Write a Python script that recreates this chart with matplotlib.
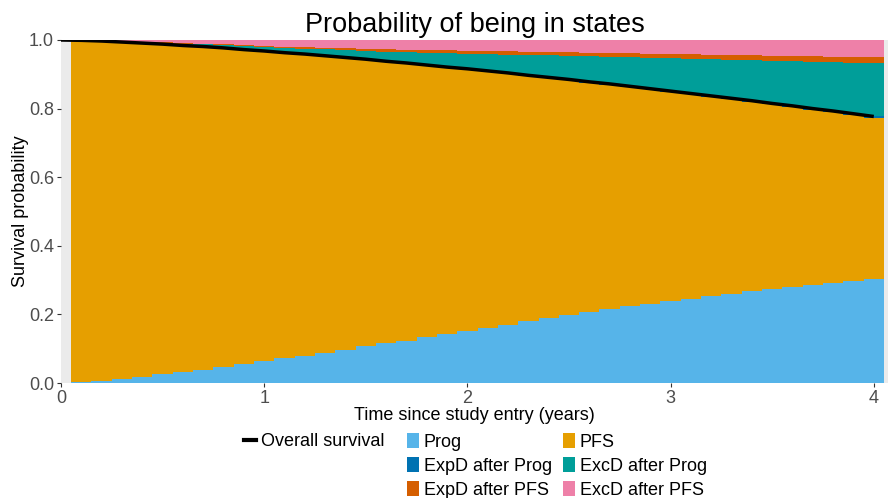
import numpy as np
import matplotlib
matplotlib.use("Agg")
import matplotlib.pyplot as plt
from matplotlib.lines import Line2D
from matplotlib.patches import Patch

plt.rcParams['font.family'] = ['Liberation Sans', 'DejaVu Sans']

# time points (years) - one bar per 0.1 year
times = [0.1, 0.2, 0.3, 0.4, 0.5, 0.6, 0.7, 0.8, 0.9, 1.0,
         1.1, 1.2, 1.3, 1.4, 1.5, 1.6, 1.7, 1.8, 1.9, 2.0,
         2.1, 2.2, 2.3, 2.4, 2.5, 2.6, 2.7, 2.8, 2.9, 3.0,
         3.1, 3.2, 3.3, 3.4, 3.5, 3.6, 3.7, 3.8, 3.9, 4.0]

# state membership probabilities (stacked bottom -> top)
prog = [0.004, 0.006, 0.011, 0.018, 0.027, 0.033, 0.039, 0.047, 0.056, 0.065,
        0.074, 0.080, 0.087, 0.097, 0.109, 0.117, 0.122, 0.134, 0.144, 0.152,
        0.161, 0.168, 0.181, 0.190, 0.197, 0.207, 0.215, 0.225, 0.231, 0.238,
        0.244, 0.254, 0.260, 0.267, 0.273, 0.281, 0.286, 0.292, 0.296, 0.302]
pfs = [0.995, 0.991, 0.983, 0.973, 0.961, 0.951, 0.942, 0.930, 0.916, 0.903,
       0.888, 0.878, 0.866, 0.851, 0.834, 0.820, 0.810, 0.792, 0.776, 0.763,
       0.748, 0.735, 0.715, 0.700, 0.687, 0.669, 0.655, 0.638, 0.625, 0.611,
       0.598, 0.581, 0.568, 0.553, 0.539, 0.524, 0.511, 0.498, 0.485, 0.471]
expd_prog = [0.0, 0.0, 0.0, 0.0, 0.0, 0.0, 0.0, 0.0, 0.0, 0.0,
             0.001, 0.001, 0.001, 0.001, 0.001, 0.001, 0.001, 0.001, 0.001, 0.001,
             0.001, 0.001, 0.001, 0.001, 0.001, 0.002, 0.002, 0.002, 0.002, 0.002,
             0.002, 0.002, 0.002, 0.003, 0.003, 0.003, 0.003, 0.003, 0.004, 0.004]
excd_prog = [0.001, 0.002, 0.003, 0.003, 0.004, 0.005, 0.006, 0.007, 0.010, 0.011,
             0.014, 0.016, 0.019, 0.022, 0.025, 0.028, 0.032, 0.036, 0.041, 0.044,
             0.049, 0.053, 0.059, 0.064, 0.068, 0.074, 0.079, 0.084, 0.090, 0.096,
             0.101, 0.107, 0.113, 0.118, 0.125, 0.131, 0.137, 0.143, 0.149, 0.156]
expd_pfs = [0.0, 0.0, 0.0, 0.001, 0.001, 0.002, 0.002, 0.003, 0.003, 0.004,
            0.004, 0.005, 0.005, 0.006, 0.006, 0.007, 0.007, 0.008, 0.008, 0.009,
            0.009, 0.010, 0.010, 0.010, 0.011, 0.011, 0.011, 0.012, 0.012, 0.012,
            0.013, 0.013, 0.013, 0.014, 0.014, 0.014, 0.015, 0.015, 0.016, 0.016]
excd_pfs = [0.0, 0.001, 0.003, 0.005, 0.007, 0.009, 0.011, 0.013, 0.015, 0.017,
            0.019, 0.020, 0.022, 0.023, 0.025, 0.027, 0.028, 0.029, 0.030, 0.031,
            0.032, 0.033, 0.034, 0.035, 0.036, 0.037, 0.038, 0.039, 0.040, 0.041,
            0.042, 0.043, 0.044, 0.045, 0.046, 0.047, 0.048, 0.049, 0.050, 0.051]

# overall survival curve
os_time = [0.0] + times
os_surv = [1.0, 0.999, 0.997, 0.994, 0.991, 0.988, 0.984, 0.981, 0.977, 0.972, 0.968,
           0.963, 0.959, 0.954, 0.949, 0.944, 0.938, 0.933, 0.927, 0.921, 0.916,
           0.910, 0.904, 0.897, 0.891, 0.885, 0.878, 0.872, 0.865, 0.858, 0.851,
           0.844, 0.837, 0.830, 0.823, 0.815, 0.808, 0.800, 0.793, 0.785, 0.777]

state_names = ['Prog', 'PFS', 'ExpD after Prog', 'ExcD after Prog',
               'ExpD after PFS', 'ExcD after PFS']
state_colors = ['#56B4E9', '#E69F00', '#0072B2', '#009E99', '#D55E00', '#EE80A8']
states = [prog, pfs, expd_prog, excd_prog, expd_pfs, excd_pfs]

fig = plt.figure(figsize=(8.88, 4.98), dpi=100)
ax = fig.add_axes([61/888, 115/498, 827/888, 343/498])
ax.set_facecolor('#EBEBEB')

t = np.array(times)
edges = np.append(t - 0.05, t[-1] + 0.05)
bottom = np.zeros(len(t))
for vals, col in zip(states, state_colors):
    v = np.array(vals)
    ax.stairs(bottom + v, edges, baseline=bottom, fill=True, color=col,
              linewidth=0)
    bottom = bottom + v

ax.plot(os_time, os_surv, color='black', lw=2.5, solid_capstyle='butt')

ax.set_xlim(0, 4.07)
ax.set_ylim(0, 1)
ax.set_xticks([0, 1, 2, 3, 4])
ax.set_yticks([0, 0.2, 0.4, 0.6, 0.8, 1.0])
ax.set_yticklabels(['0.0', '0.2', '0.4', '0.6', '0.8', '1.0'])
for s in ax.spines.values():
    s.set_visible(False)
ax.tick_params(colors='#333333', labelcolor='#4D4D4D', labelsize=13,
               length=3, width=0.8, pad=2)

ax.set_xlabel('Time since study entry (years)', fontsize=13, labelpad=0)
ax.set_ylabel('Survival probability', fontsize=13, labelpad=0)
ax.set_title('Probability of being in states', fontsize=19.5, pad=6)

# legends
h_line = [Line2D([0], [0], color='black', lw=3)]
leg1 = fig.legend(h_line, ['Overall survival'], loc='upper left',
                  bbox_to_anchor=(244/888, 1 - 433/498), frameon=False,
                  fontsize=13, handlelength=0.65, handletextpad=0.3,
                  borderaxespad=0, borderpad=0)

order = [0, 2, 4, 1, 3, 5]
h_fill = [Patch(facecolor=state_colors[i], edgecolor='none') for i in order]
l_fill = [state_names[i] for i in order]
leg2 = fig.legend(h_fill, l_fill, loc='upper left', ncol=2,
                  bbox_to_anchor=(407/888, 1 - 433/498), frameon=False,
                  fontsize=13, handlelength=0.68, handleheight=0.9,
                  handletextpad=0.25, columnspacing=0.6, labelspacing=0.36,
                  borderaxespad=0, borderpad=0)

fig.savefig('out.png', dpi=100)
